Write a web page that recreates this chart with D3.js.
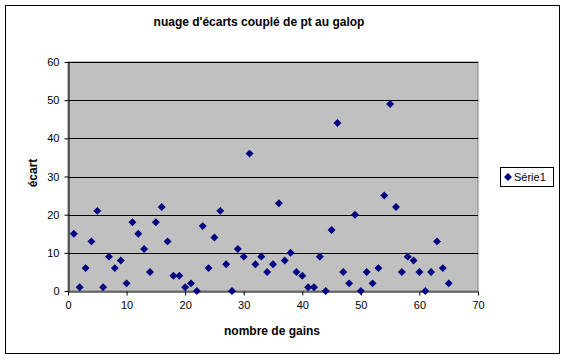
<!DOCTYPE html>
<html><head><meta charset="utf-8">
<script src="https://cdn.jsdelivr.net/npm/d3@7"></script>
<style>
body{margin:0;background:#fff;}
text{font-family:"Liberation Sans",Arial,sans-serif;}
</style></head>
<body><svg id="c" width="566" height="360"></svg>
<script>
const title = "nuage d'écarts couplé de pt au galop";
const xTitle = "nombre de gains";
const yTitle = "écart";
const seriesName = "Série1";
const xValues = d3.range(1, 66);
const yValues = [15,1,6,13,21,1,9,6,8,2,18,15,11,5,18,22,13,4,4,1,2,0,17,6,14,21,7,0,11,9,36,7,9,5,7,23,8,10,5,4,1,1,9,0,16,44,5,2,20,0,5,2,6,25,49,22,5,9,8,5,0,5,13,6,2];
const xTicks = [0,10,20,30,40,50,60,70];
const yTicks = [0,10,20,30,40,50,60];

const svg = d3.select("#c");
const L = 68, R = 478, T = 62, B = 291;
const x = d3.scaleLinear().domain([0,70]).range([L,R]);
const y = d3.scaleLinear().domain([0,60]).range([B,T]);

svg.append("rect").attr("x",5.5).attr("y",5.5).attr("width",554).attr("height",348)
  .attr("fill","#fff").attr("stroke","#000").attr("stroke-width",1);

svg.append("rect").attr("x",L).attr("y",T).attr("width",R-L).attr("height",B-T)
  .attr("fill","#c0c0c0").attr("stroke","#808080").attr("stroke-width",1);

svg.append("g").selectAll("line").data(yTicks.filter(d=>d>0)).join("line")
  .attr("x1",L).attr("x2",R).attr("y1",d=>Math.round(y(d))+0.5).attr("y2",d=>Math.round(y(d))+0.5)
  .attr("stroke","#000").attr("stroke-width",1);

const xa = svg.append("g").attr("transform",`translate(0,${B+0.5})`)
  .call(d3.axisBottom(x).tickValues(xTicks).tickSize(4).tickSizeOuter(0).tickPadding(6));
const ya = svg.append("g").attr("transform",`translate(${L+0.5},0)`)
  .call(d3.axisLeft(y).tickValues(yTicks).tickSize(4).tickSizeOuter(0).tickPadding(5));
[xa,ya].forEach(g=>{
  g.selectAll("text").attr("font-size",11).attr("fill","#000").attr("font-family","Liberation Sans, Arial, sans-serif");
  g.selectAll("line").attr("stroke","#000");
  g.select(".domain").attr("stroke","#000");
});

const diamond = d3.symbol().type(d3.symbolDiamond2).size(40);
svg.append("g").selectAll("path").data(xValues.map((v,i)=>[v,yValues[i]])).join("path")
  .attr("d",diamond).attr("transform",d=>`translate(${x(d[0])},${y(d[1])})`)
  .attr("fill","#000080");

svg.append("text").attr("x",259).attr("y",26).attr("text-anchor","middle")
  .attr("font-size",12).attr("font-weight","bold").text(title);
svg.append("text").attr("x",272).attr("y",335).attr("text-anchor","middle")
  .attr("font-size",12).attr("font-weight","bold").text(xTitle);
svg.append("text").attr("transform","translate(37,173) rotate(-90)").attr("text-anchor","middle")
  .attr("font-size",12).attr("font-weight","bold").text(yTitle);

const lg = svg.append("g");
lg.append("rect").attr("x",500.5).attr("y",167.5).attr("width",53).attr("height",19)
  .attr("fill","#fff").attr("stroke","#000");
lg.append("path").attr("d",diamond).attr("transform","translate(508,177)").attr("fill","#000080");
lg.append("text").attr("x",514).attr("y",181).attr("font-size",11).text(seriesName);
</script></body></html>
